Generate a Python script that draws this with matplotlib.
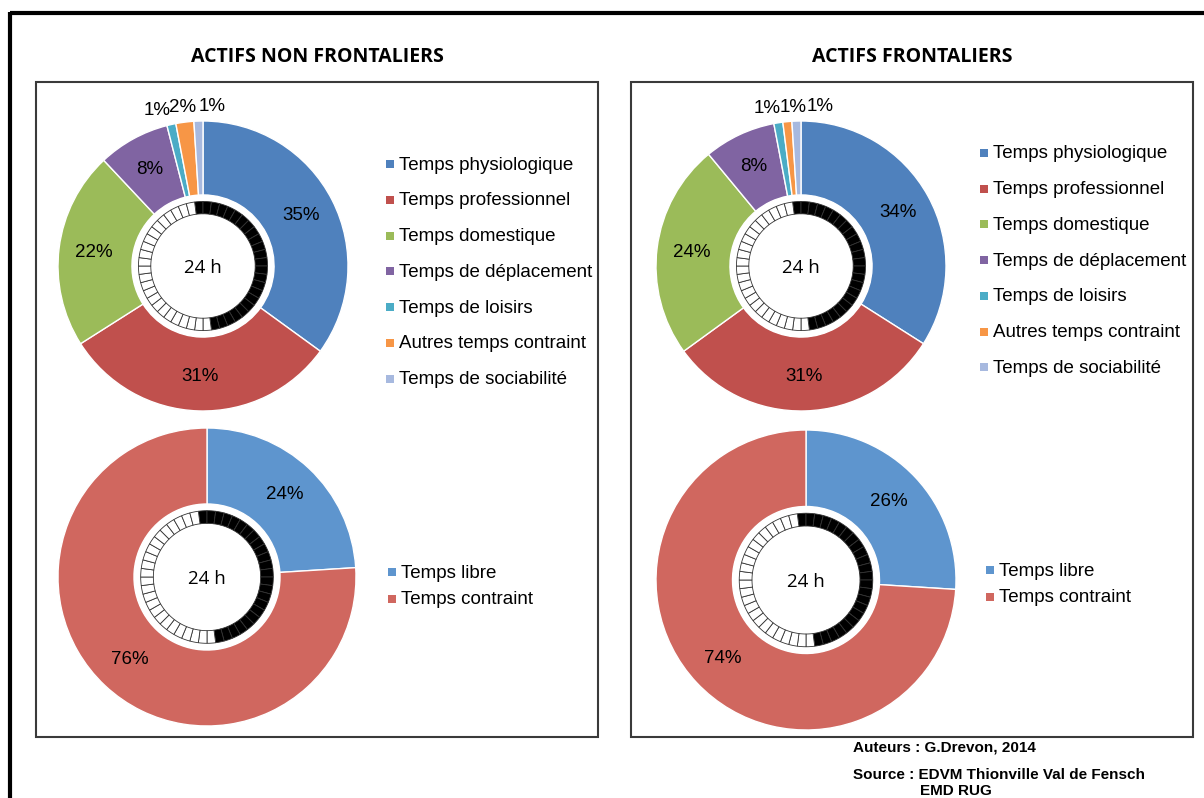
import numpy as np
import matplotlib.pyplot as plt
from matplotlib.patches import Wedge, Circle, Rectangle

# Budget-temps des actifs : ventilation des 24 h par type d'activité
cats_detail = ['Temps physiologique', 'Temps professionnel', 'Temps domestique',
               'Temps de déplacement', 'Temps de loisirs', 'Autres temps contraint',
               'Temps de sociabilité']
non_front_detail = [35, 31, 22, 8, 1, 2, 1]
front_detail = [34, 31, 24, 8, 1, 1, 1]

cats_synth = ['Temps libre', 'Temps contraint']
non_front_synth = [24, 76]
front_synth = [26, 74]

titles = ['ACTIFS NON FRONTALIERS', 'ACTIFS FRONTALIERS']

colors_detail = ['#4F81BD', '#C0504D', '#9BBB59', '#8064A2', '#4BACC6', '#F79646', '#A7B9DF']
colors_synth = ['#5E95CE', '#D0675F']

# cadran 24 h : 48 demi-heures, dont 24 en noir
clock_slots = 48
clock_dark = 24

W, H = 1204, 798
fig = plt.figure(figsize=(W / 100, H / 100), dpi=100)
ax = fig.add_axes([0, 0, 1, 1])
ax.set_xlim(0, W)
ax.set_ylim(H, 0)
ax.set_aspect('equal')
ax.axis('off')

txt_font = 'Liberation Sans'


def draw_clock(cx, cy, r):
    ax.add_patch(Circle((cx, cy), r * 0.49, facecolor='white', edgecolor='none', zorder=3))
    step = 360.0 / clock_slots
    # y axis is inverted: -90 is the top and angles grow clockwise on screen
    start = -90 - step
    for i in range(clock_slots):
        a0 = start + i * step
        fc = 'black' if i < clock_dark else 'white'
        ax.add_patch(Wedge((cx, cy), r * 0.445, a0, a0 + step, width=r * 0.085,
                           facecolor=fc, edgecolor='#333333', linewidth=0.6, zorder=4))
    ax.text(cx, cy + 2, '24 h', ha='center', va='center', fontsize=13.5,
            family='Open Sans', zorder=5)


def draw_donut(values, colors, cx, cy, r, small_dx=None):
    ax.pie(values, colors=colors, center=(cx, cy), radius=r,
           startangle=-90, counterclock=True, frame=True,
           wedgeprops=dict(width=r * 0.51, edgecolor='white', linewidth=1))
    total = float(sum(values))
    cum = 0.0
    k = 0
    for v in values:
        mid = (cum + v / 2) / total
        cum += v
        ang = np.deg2rad(-90 + 360 * mid)
        if v / total < 0.05:
            rr = r * 1.1
            x = cx + rr * np.cos(ang) + (small_dx[k] if small_dx else 0)
            y = cy + rr * np.sin(ang)
            k += 1
        else:
            rr = r * 0.76
            x = cx + rr * np.cos(ang)
            y = cy + rr * np.sin(ang)
        ax.text(x, y, f'{v}%', ha='center', va='center', fontsize=13.5,
                family=txt_font, zorder=6)
    draw_clock(cx, cy, r)


def draw_legend(labels, colors, x, y0, dy):
    for i, (lab, c) in enumerate(zip(labels, colors)):
        y = y0 + i * dy
        ax.add_patch(Rectangle((x - 4, y - 5), 8, 8, facecolor=c, edgecolor='none'))
        ax.text(x + 9, y, lab, ha='left', va='center', fontsize=13.5, family=txt_font)


# cadre général
ax.plot([10, W + 5], [13, 13], color='black', linewidth=3, solid_capstyle='butt')
ax.plot([10, 10], [12, H + 5], color='black', linewidth=3, solid_capstyle='butt')

panels = [
    dict(box=(36, 82, 598, 737), title_x=317, detail=non_front_detail, synth=non_front_synth,
         top=(203, 266, 145), bot=(207, 577, 149), leg_top=(390, 165, 35.8), leg_bot=(392, 573, 27),
         small_dx=[-11, 0, 14]),
    dict(box=(631, 82, 1193, 737), title_x=912, detail=front_detail, synth=front_synth,
         top=(801, 266, 145), bot=(806, 580, 150), leg_top=(984, 154, 35.7), leg_bot=(990, 571, 27),
         small_dx=[-9, 7, 24]),
]

for p, title in zip(panels, titles):
    x0, y0, x1, y1 = p['box']
    ax.add_patch(Rectangle((x0, y0), x1 - x0, y1 - y0, facecolor='none',
                           edgecolor='#3a3a3a', linewidth=1.5))
    ax.text(p['title_x'], 57, title, ha='center', va='center', fontsize=14,
            fontweight='bold', family='Open Sans')
    cx, cy, r = p['top']
    draw_donut(p['detail'], colors_detail, cx, cy, r, p['small_dx'])
    cx, cy, r = p['bot']
    draw_donut(p['synth'], colors_synth, cx, cy, r)
    draw_legend(cats_detail, colors_detail, *p['leg_top'])
    draw_legend(cats_synth, colors_synth, *p['leg_bot'])

ax.set_xlim(0, W)
ax.set_ylim(H, 0)

ax.text(853, 747, 'Auteurs : G.Drevon, 2014', ha='left', va='center', fontsize=11,
        fontweight='bold', family=txt_font)
ax.text(853, 775, 'Source : EDVM Thionville Val de Fensch', ha='left', va='center',
        fontsize=11, fontweight='bold', family=txt_font)
ax.text(920, 791, 'EMD RUG', ha='left', va='center', fontsize=11,
        fontweight='bold', family=txt_font)

fig.savefig('out.png', dpi=100)
